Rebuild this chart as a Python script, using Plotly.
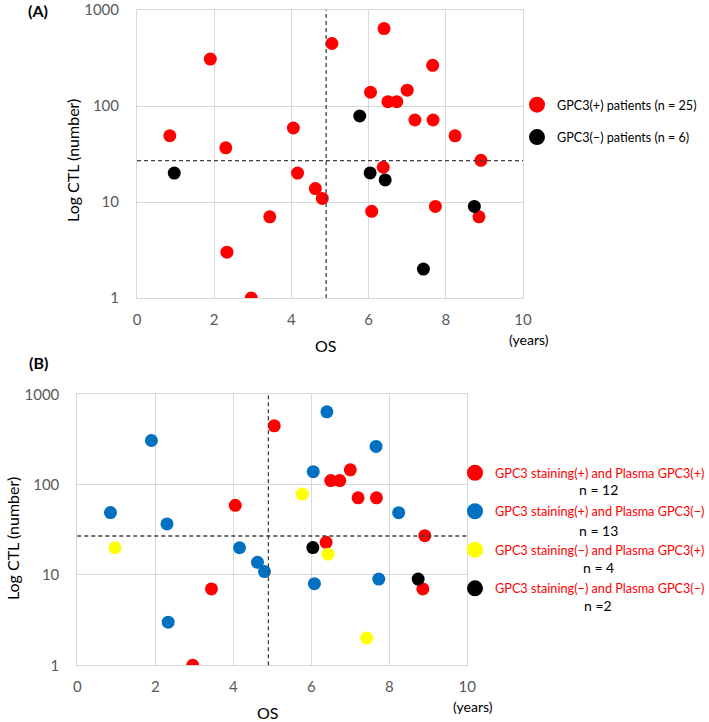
import plotly.graph_objects as go

# ---- data (OS in years, CTL count) ----
# Panel B groups; panel A = (staining+) vs (staining-)
pp_os = [2.96, 3.44, 4.05, 5.05, 6.38, 6.50, 6.73, 7.00, 7.20, 7.67, 8.86, 8.91]
pp_ctl = [1.0, 7.0, 59, 448, 23, 111, 111, 146, 71.5, 71.5, 7.0, 27.2]
pn_os = [0.85, 1.90, 2.30, 2.33, 4.16, 4.62, 4.80, 6.05, 6.08, 6.40, 7.66, 7.73, 8.24]
pn_ctl = [49, 308, 36.7, 3.0, 20, 13.8, 10.9, 139, 8.0, 640, 265, 9.0, 48.9]
np_os = [0.965, 5.77, 6.43, 7.42]
np_ctl = [20, 78.7, 17.0, 2.0]
nn_os = [6.04, 8.74]
nn_ctl = [20.1, 9.0]

pos_os = pp_os + pn_os
pos_ctl = pp_ctl + pn_ctl
neg_os = np_os + nn_os
neg_ctl = np_ctl + nn_ctl

CTL_CUT = 27
OS_CUT = 4.9

x_ticks = [0, 2, 4, 6, 8, 10]
y_ticks = [1, 10, 100, 1000]

labels_a = ["GPC3(+) patients (n = 25)", "GPC3(\u2212) patients (n = 6)"]
labels_b = ["GPC3 staining(+) and Plasma GPC3(+)",
            "GPC3 staining(+) and Plasma GPC3(\u2212)",
            "GPC3 staining(\u2212) and Plasma GPC3(+)",
            "GPC3 staining(\u2212) and Plasma GPC3(\u2212)"]
n_b = ["n = 12", "n = 13", "n = 4", "n =2"]

RED = "#FF0000"; BLUE = "#0070C0"; YEL = "#FFFF00"; BLK = "#000000"
FONT = "Lato"
GRID = "#D9D9D9"
TICKC = "#595959"
MS = 13
LEG_MS = 18

W, H = 709, 722
def fx(px): return px / W
def fy(py): return 1 - py / H

fig = go.Figure()

def add_group(xs, ys, color, label, xa, ya, leg, grp):
    fig.add_trace(go.Scatter(x=xs, y=ys, mode="markers", name=label, showlegend=False,
                             marker=dict(color=color, size=MS), xaxis=xa, yaxis=ya,
                             legendgroup=grp))
    # legend entry (no data points), larger symbol as in the original legend
    fig.add_trace(go.Scatter(x=[None], y=[None], mode="markers", name=label,
                             marker=dict(color=color, size=LEG_MS), xaxis=xa, yaxis=ya,
                             legend=leg, legendgroup=grp, hoverinfo="skip"))

add_group(pos_os, pos_ctl, RED, labels_a[0], "x", "y", "legend", "a1")
add_group(neg_os, neg_ctl, BLK, labels_a[1], "x", "y", "legend", "a2")
add_group(pp_os, pp_ctl, RED, labels_b[0], "x2", "y2", "legend2", "b1")
add_group(pn_os, pn_ctl, BLUE, labels_b[1], "x2", "y2", "legend2", "b2")
add_group(np_os, np_ctl, YEL, labels_b[2], "x2", "y2", "legend2", "b3")
add_group(nn_os, nn_ctl, BLK, labels_b[3], "x2", "y2", "legend2", "b4")

axis_common = dict(showgrid=True, gridcolor=GRID, gridwidth=1, zeroline=False,
                   showline=True, mirror=True, linecolor=GRID, linewidth=1,
                   automargin=False, ticklabeloverflow="allow",
                   ticks="", tickfont=dict(family=FONT, size=15, color=TICKC))
xax = dict(axis_common, range=[0, 10], tickvals=x_ticks, ticklabelstandoff=8)
yax = dict(axis_common, type="log", range=[0, 3], tickvals=y_ticks,
           ticktext=[str(v) for v in y_ticks], ticklabelstandoff=14)

fig.update_layout(
    width=W, height=H, margin=dict(l=0, r=0, t=0, b=0, autoexpand=False),
    paper_bgcolor="white", plot_bgcolor="white",
    font=dict(family=FONT, color="black"),
    xaxis=dict(xax, domain=[fx(137), fx(523)], anchor="y"),
    yaxis=dict(yax, domain=[fy(298), fy(10)], anchor="x"),
    xaxis2=dict(xax, domain=[fx(77.3), fx(467.3)], anchor="y2"),
    yaxis2=dict(yax, domain=[fy(665.3), fy(394.3)], anchor="x2"),
    legend=dict(x=fx(517), y=fy(90), xanchor="left", yanchor="top",
                font=dict(family=FONT, size=12.6, color="black"),
                traceorder="grouped", tracegroupgap=13, itemsizing="trace",
                bgcolor="rgba(0,0,0,0)"),
    legend2=dict(x=fx(455), y=fy(458), xanchor="left", yanchor="top",
                 font=dict(family=FONT, size=12.7, color=RED),
                 traceorder="grouped", tracegroupgap=19, itemsizing="trace",
                 bgcolor="rgba(0,0,0,0)"),
    showlegend=True,
)

shapes = []
for xa, ya in [("x", "y"), ("x2", "y2")]:
    shapes.append(dict(type="line", xref=f"{xa} domain", yref=ya, x0=0, x1=1,
                       y0=CTL_CUT, y1=CTL_CUT, line=dict(color="#404040", width=1.3, dash="4px,3px")))
    shapes.append(dict(type="line", xref=xa, yref=f"{ya} domain", x0=OS_CUT, x1=OS_CUT,
                       y0=0, y1=1, line=dict(color="#404040", width=1.3, dash="4px,3px")))
fig.update_layout(shapes=shapes)

ann = []
for xa, ya, ysh in [("x", "y", -7), ("x2", "y2", -9)]:
    ann.append(dict(text=str(CTL_CUT), xref=f"{xa} domain", yref=ya, x=0, y=CTL_CUT,
                    xanchor="right", yanchor="middle", xshift=-14, showarrow=False,
                    font=dict(family=FONT, size=15, color="black")))
    ann.append(dict(text="Log CTL (number)", xref=f"{xa} domain", yref=f"{ya} domain",
                    x=0, y=0.5, xshift=-65, yshift=ysh, textangle=-90, showarrow=False,
                    xanchor="center", yanchor="middle",
                    font=dict(family=FONT, size=16, color="black")))
    ann.append(dict(text="OS", xref=f"{xa} domain", yref=f"{ya} domain",
                    x=0.5, y=0, xshift=-4, yshift=-47, showarrow=False,
                    xanchor="center", yanchor="middle",
                    font=dict(family=FONT, size=16, color="black")))
    ann.append(dict(text="(years)", xref=f"{xa} domain", yref=f"{ya} domain",
                    x=1, y=0, xshift=6, yshift=-41, showarrow=False,
                    xanchor="center", yanchor="middle",
                    font=dict(family=FONT, size=14, color="black")))
ann.append(dict(text="<b>(A)</b>", xref="paper", yref="paper", x=fx(38), y=fy(11),
                showarrow=False, xanchor="center", yanchor="middle",
                font=dict(family=FONT, size=16, color="black")))
ann.append(dict(text="<b>(B)</b>", xref="paper", yref="paper", x=fx(38), y=fy(362),
                showarrow=False, xanchor="center", yanchor="middle",
                font=dict(family=FONT, size=16, color="black")))
for i, t in enumerate(n_b):
    ann.append(dict(text=t, xref="paper", yref="paper", x=fx(598), y=fy([489, 530, 567, 605][i]),
                    showarrow=False, xanchor="center", yanchor="middle",
                    font=dict(family=FONT, size=14, color="black")))
fig.update_layout(annotations=ann)

fig.write_html("out.html", config={"displayModeBar": False},
               post_script="document.body.style.margin='0';")
